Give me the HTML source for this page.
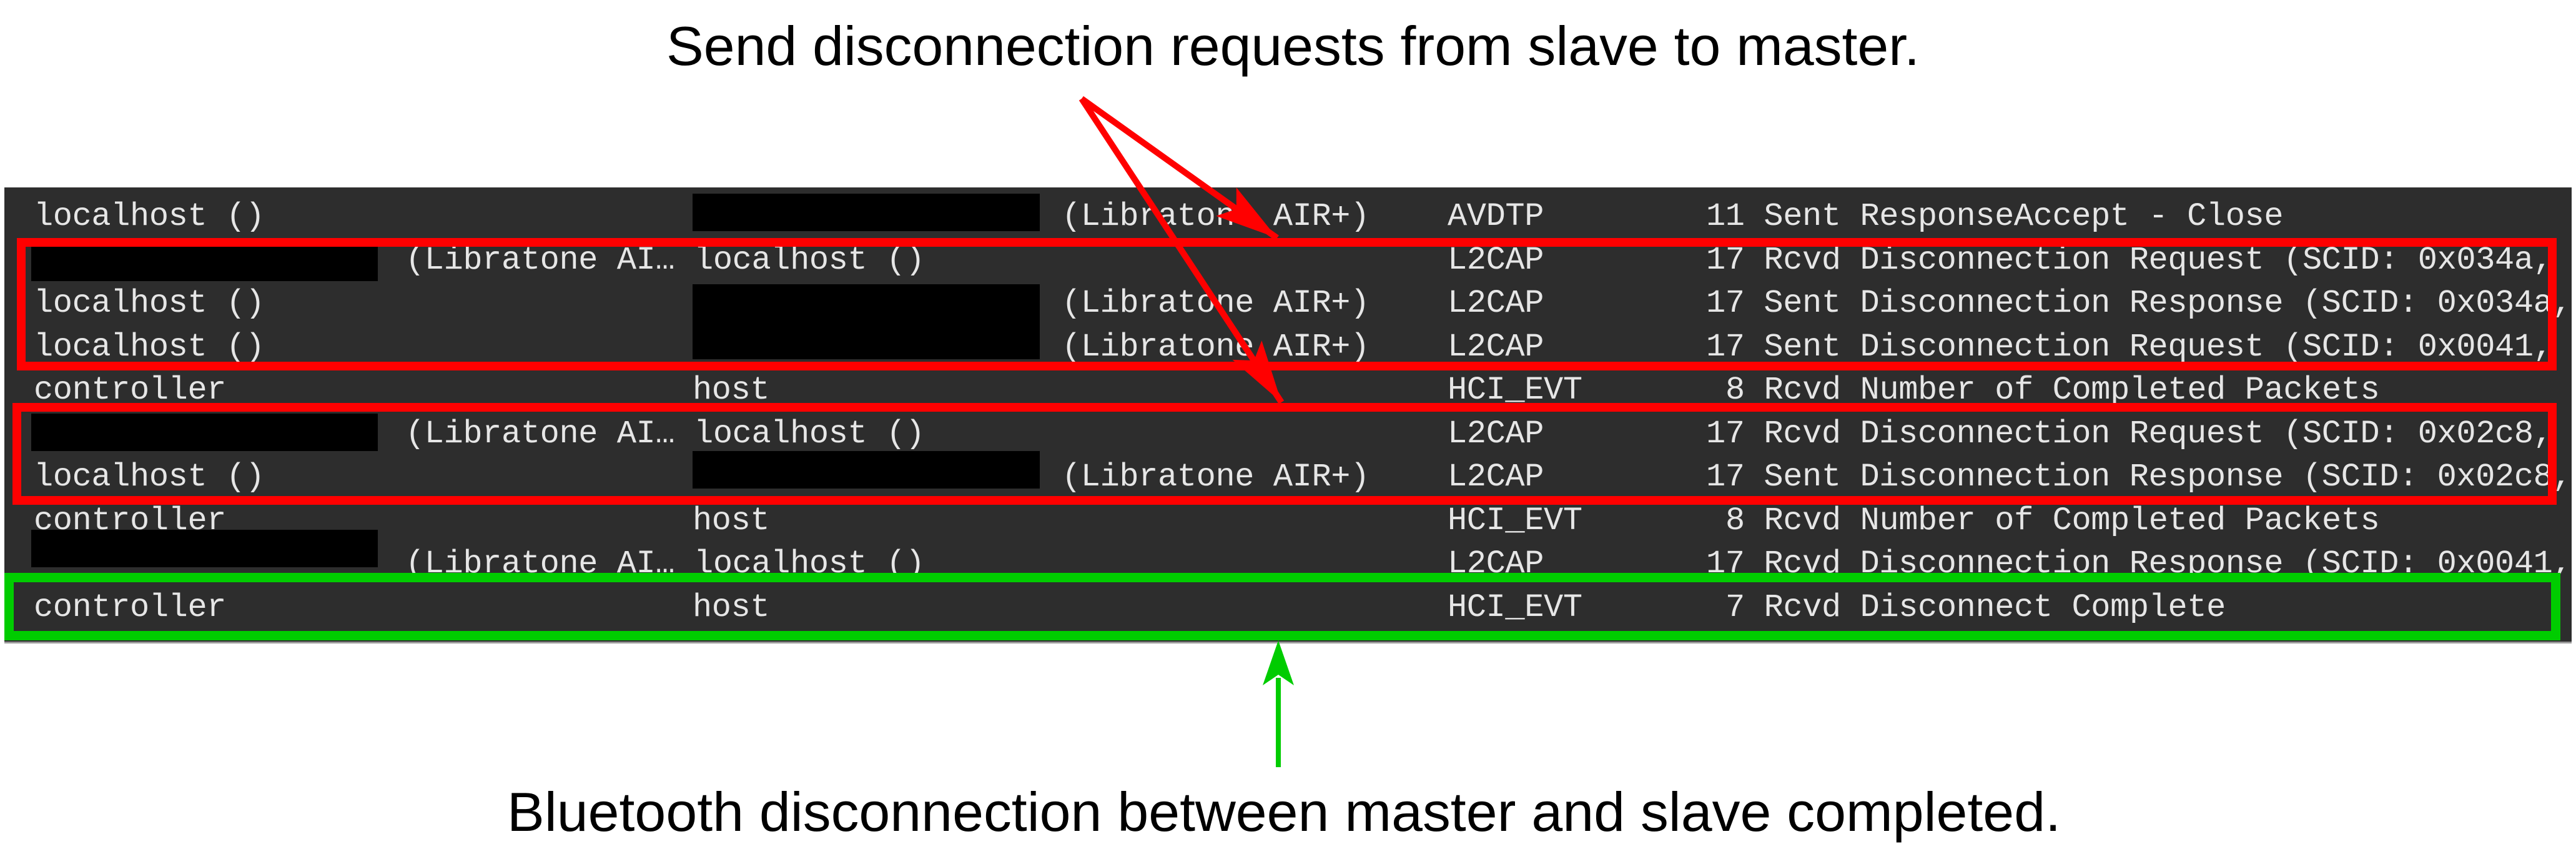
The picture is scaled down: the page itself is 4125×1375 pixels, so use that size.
<!DOCTYPE html>
<html><head><meta charset="utf-8"><style>
html,body{margin:0;padding:0;background:#fff;}
svg{display:block;}
.m{font-family:"Liberation Mono",monospace;font-size:52px;fill:#e6e6e6;letter-spacing:-0.4px;}
.t{font-family:"Liberation Sans",sans-serif;font-size:88px;fill:#000;}
</style></head><body>
<svg width="4125" height="1375" viewBox="0 0 4125 1375" xmlns="http://www.w3.org/2000/svg">
<defs>
<clipPath id="pc"><rect x="7" y="300" width="4111" height="729"/></clipPath>
<marker id="rh" markerUnits="userSpaceOnUse" markerWidth="130" markerHeight="80" refX="0" refY="0" viewBox="-115 -40 130 80" orient="auto">
<path d="M0,0 L-100,-28 L-80,0 L-100,28 Z" fill="#ff0000"/>
</marker>
</defs>
<text class="t" x="1067" y="104" textLength="2007" lengthAdjust="spacingAndGlyphs">Send disconnection requests from slave to master.</text>
<rect x="7" y="300" width="4111" height="729" fill="#2d2d2d"/>
<rect x="7" y="1027" width="4111" height="3" fill="#9a9a9a"/>
<g clip-path="url(#pc)" class="m">
<text x="54" y="360">localhost ()</text><text x="1700" y="360">(Libratone AIR+)</text><text x="2318" y="360">AVDTP</text><text x="2732" y="360">11 Sent ResponseAccept - Close</text>
<text x="649" y="430">(Libratone AI… localhost ()</text><text x="2318" y="430">L2CAP</text><text x="2732" y="430">17 Rcvd Disconnection Request (SCID: 0x034a, DCID: 0x0041)</text>
<text x="54" y="499">localhost ()</text><text x="1700" y="499">(Libratone AIR+)</text><text x="2318" y="499">L2CAP</text><text x="2732" y="499">17 Sent Disconnection Response (SCID: 0x034a, DCID: 0x0041)</text>
<text x="54" y="569">localhost ()</text><text x="1700" y="569">(Libratone AIR+)</text><text x="2318" y="569">L2CAP</text><text x="2732" y="569">17 Sent Disconnection Request (SCID: 0x0041, DCID: 0x034a)</text>
<text x="54" y="638">controller</text><text x="1109" y="638">host</text><text x="2318" y="638">HCI_EVT</text><text x="2763" y="638">8 Rcvd Number of Completed Packets</text>
<text x="649" y="708">(Libratone AI… localhost ()</text><text x="2318" y="708">L2CAP</text><text x="2732" y="708">17 Rcvd Disconnection Request (SCID: 0x02c8, DCID: 0x0040)</text>
<text x="54" y="777">localhost ()</text><text x="1700" y="777">(Libratone AIR+)</text><text x="2318" y="777">L2CAP</text><text x="2732" y="777">17 Sent Disconnection Response (SCID: 0x02c8, DCID: 0x0040)</text>
<text x="54" y="847">controller</text><text x="1109" y="847">host</text><text x="2318" y="847">HCI_EVT</text><text x="2763" y="847">8 Rcvd Number of Completed Packets</text>
<text x="649" y="916">(Libratone AI… localhost ()</text><text x="2318" y="916">L2CAP</text><text x="2732" y="916">17 Rcvd Disconnection Response (SCID: 0x0041, DCID: 0x034a)</text>
<text x="54" y="986">controller</text><text x="1109" y="986">host</text><text x="2318" y="986">HCI_EVT</text><text x="2763" y="986">7 Rcvd Disconnect Complete</text>
</g>
<g fill="#000">
<rect x="1109" y="310" width="556" height="60"/>
<rect x="50" y="390" width="555" height="60"/>
<rect x="1109" y="455" width="556" height="120"/>
<rect x="50" y="662" width="555" height="60"/>
<rect x="1109" y="722" width="556" height="60"/>
<rect x="50" y="848" width="555" height="60"/>
</g>
<g fill="none" stroke="#ff0000" stroke-width="14">
<rect x="34" y="388" width="4053" height="198"/>
<rect x="27" y="652" width="4060" height="149"/>
</g>
<rect x="14.5" y="924.5" width="4078" height="93" fill="none" stroke="#00cc00" stroke-width="15"/>
<g stroke="#ff0000" stroke-width="10" fill="none">
<line x1="1732" y1="158" x2="2045" y2="381" marker-end="url(#rh)"/>
<line x1="1732" y1="158" x2="2052" y2="644" marker-end="url(#rh)"/>
</g>
<line x1="2047" y1="1228" x2="2047" y2="1085" stroke="#00cc00" stroke-width="8"/>
<path d="M2047,1025 L2072,1097 L2047,1080 L2022,1097 Z" fill="#00cc00"/>
<text class="t" x="812" y="1330" textLength="2488" lengthAdjust="spacingAndGlyphs">Bluetooth disconnection between master and slave completed.</text>
</svg>
</body></html>
